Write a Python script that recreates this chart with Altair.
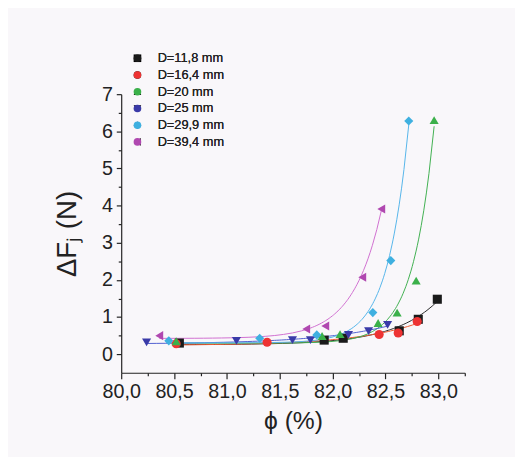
import altair as alt
import pandas as pd

# ---- data ----
series_names = ["D=11,8 mm", "D=16,4 mm", "D=20 mm", "D=25 mm", "D=29,9 mm", "D=39,4 mm"]

phi_118 = [80.55, 81.92, 82.10, 82.63, 82.81, 82.99]
dF_118 = [0.30, 0.38, 0.43, 0.63, 0.94, 1.48]

phi_164 = [80.52, 81.38, 82.44, 82.62, 82.80]
dF_164 = [0.28, 0.32, 0.53, 0.57, 0.88]

phi_200 = [80.52, 81.90, 82.07, 82.43, 82.61, 82.79, 82.96]
dF_200 = [0.35, 0.49, 0.54, 0.84, 1.12, 1.98, 6.30]

phi_250 = [80.24, 81.09, 81.62, 81.79, 82.15, 82.34, 82.52]
dF_250 = [0.32, 0.36, 0.38, 0.38, 0.52, 0.62, 0.79]

phi_299 = [80.45, 81.31, 81.85, 82.38, 82.55, 82.72]
dF_299 = [0.36, 0.43, 0.52, 1.12, 2.52, 6.28]

phi_394 = [80.36, 81.75, 81.93, 82.28, 82.46]
dF_394 = [0.50, 0.68, 0.76, 2.07, 3.91]

x_ticks = [80.0, 80.25, 80.5, 80.75, 81.0, 81.25, 81.5, 81.75, 82.0, 82.25,
           82.5, 82.75, 83.0, 83.25]
y_ticks = [0, 0.5, 1, 1.5, 2, 2.5, 3, 3.5, 4, 4.5, 5, 5.5, 6, 6.5, 7]

point_colors = ["#1a1a1a", "#ee3333", "#3bb04a", "#3a3aa8", "#3fb0e0", "#b048b0"]
line_colors = ["#2a2a2a", "#f05a30", "#40b050", "#5060d0", "#55b5ea", "#d070d0"]
shapes = ["square", "circle", "triangle-up", "triangle-down", "diamond", "triangle-left"]

groups = [(series_names[0], phi_118, dF_118), (series_names[1], phi_164, dF_164),
          (series_names[2], phi_200, dF_200), (series_names[3], phi_250, dF_250),
          (series_names[4], phi_299, dF_299), (series_names[5], phi_394, dF_394)]
rows = []
for name, xs, ys in groups:
    for xv, yv in zip(xs, ys):
        rows.append({"series": name, "phi": xv, "dF": yv})
data = pd.DataFrame(rows)

FONT = "Liberation Sans"
x_scale = alt.Scale(domain=[80, 83.25], nice=False, zero=False)
y_scale = alt.Scale(domain=[-0.5, 7], nice=False, zero=False)

x_axis = alt.Axis(
    title="ϕ (%)", values=x_ticks, grid=False,
    labelExpr="(datum.value*2) % 1 === 0 ? replace(format(datum.value, '.1f'), '.', ',') : ''",
    tickSize={"condition": {"test": "(datum.value*2) % 1 === 0", "value": 6}, "value": 3},
    labelFlush=False, labelOverlap=False, labelFontSize=20, titleFontSize=25,
    labelPadding=3, titlePadding=8, titleFontWeight="normal",
)
y_axis = alt.Axis(
    title="ΔFⱼ (N)", values=y_ticks, grid=False,
    labelExpr="datum.value % 1 === 0 ? format(datum.value, 'd') : ''",
    tickSize={"condition": {"test": "datum.value % 1 === 0", "value": 5}, "value": 3},
    labelFlush=False, labelOverlap=False, labelFontSize=20, titleFontSize=28,
    labelPadding=4, titlePadding=20, titleFontWeight="normal",
)

base = alt.Chart(data)

# exponential growth fit with offset (weighted towards the steep end)
lines = base.transform_calculate(
    grp="datum.series"
).transform_joinaggregate(
    ymin="min(dF)", groupby=["grp"]
).transform_calculate(
    zz="pow(datum.dF - 0.85*datum.ymin, 2)"
).transform_regression(
    "phi", "zz", groupby=["grp", "ymin"], method="exp"
).transform_calculate(
    fit="sqrt(datum.zz) + 0.85*datum.ymin"
).mark_line(strokeWidth=1).encode(
    x=alt.X("phi:Q", scale=x_scale, axis=x_axis),
    y=alt.Y("fit:Q", scale=y_scale, axis=y_axis),
    stroke=alt.Stroke("grp:N", scale=alt.Scale(domain=series_names, range=line_colors), legend=None),
    detail="grp:N",
)

points = base.mark_point(filled=True, size=85, opacity=1).encode(
    x=alt.X("phi:Q", scale=x_scale, axis=x_axis),
    y=alt.Y("dF:Q", scale=y_scale, axis=y_axis),
    color=alt.Color("series:N", scale=alt.Scale(domain=series_names, range=point_colors),
                    legend=alt.Legend(title=None)),
    shape=alt.Shape("series:N", scale=alt.Scale(domain=series_names, range=shapes),
                    legend=alt.Legend(title=None)),
)

chart = alt.layer(lines, points).resolve_scale(
    color="independent", stroke="independent"
).properties(
    width=349, height=283,
    autosize=alt.AutoSizeParams(type="none"),
    padding={"left": 115, "top": 84, "right": 51, "bottom": 82},
    background="#f9f7fa",
).configure_view(stroke=None).configure_axis(
    labelFont=FONT, titleFont=FONT, labelColor="#222", titleColor="#222",
    domainColor="#222", tickColor="#222", domainWidth=1.2, tickWidth=1.2,
).configure_legend(
    orient="none", legendX=10, legendY=-43, padding=0,
    labelFont=FONT, labelFontSize=13, labelColor="#222", labelOffset=14,
    symbolSize=60, rowPadding=3, symbolStrokeWidth=0,
)

chart.save("out.html", embed_options={"renderer": "svg", "actions": False})
